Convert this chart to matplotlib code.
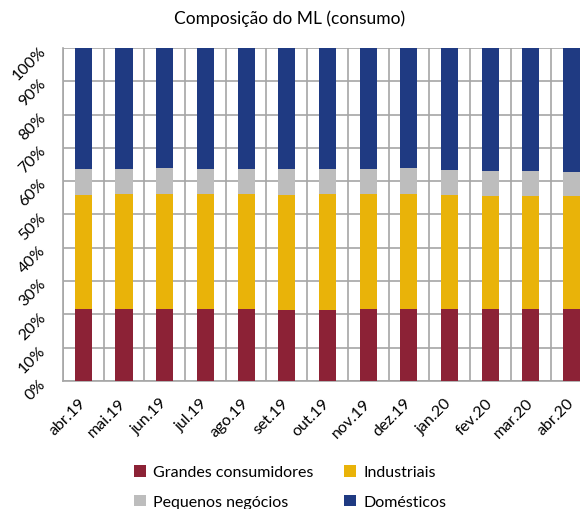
import matplotlib
matplotlib.use("Agg")
import matplotlib.pyplot as plt
import numpy as np
from matplotlib.ticker import FixedLocator, PercentFormatter

plt.rcParams['font.family'] = ['Lato', 'DejaVu Sans']

months = ["abr.19", "mai.19", "jun.19", "jul.19", "ago.19", "set.19", "out.19",
          "nov.19", "dez.19", "jan.20", "fev.20", "mar.20", "abr.20"]
grandes = [21.7, 21.7, 21.7, 21.7, 21.7, 21.3, 21.3, 21.7, 21.7, 21.7, 21.7, 21.7, 21.7]
industriais = [34.2, 34.5, 34.5, 34.5, 34.5, 34.6, 34.9, 34.5, 34.5, 34.2, 33.8, 33.8, 33.8]
pequenos = [7.8, 7.5, 7.8, 7.5, 7.5, 7.8, 7.5, 7.5, 7.8, 7.5, 7.6, 7.6, 7.3]
domesticos = [100 - g - i - p for g, i, p in zip(grandes, industriais, pequenos)]

series = [("Grandes consumidores", grandes, "#8C2236"),
          ("Industriais", industriais, "#E9B309"),
          ("Pequenos negócios", pequenos, "#BDBDBD"),
          ("Domésticos", domesticos, "#1F3A82")]

fig = plt.figure(figsize=(5.8, 5.1), dpi=100)
ax = fig.add_axes([0.1086, 0.251, 0.912, 0.653])

x = np.arange(len(months))
bottom = np.zeros(len(months))
handles = {}
for name, vals, col in series:
    b = ax.bar(x, vals, bottom=bottom, width=0.42, color=col, zorder=3, label=name)
    handles[name] = b
    bottom += np.array(vals)

ax.set_xlim(-0.5, len(months) - 0.5)
ax.set_ylim(0, 100)
ax.yaxis.set_major_locator(FixedLocator(np.arange(0, 101, 10)))
ax.yaxis.set_major_formatter(PercentFormatter(decimals=0))
ax.set_xticks(x)
ax.set_xticklabels(months, rotation=45, ha='right', va='center', rotation_mode='anchor', fontsize=11.5)
for lbl in ax.get_yticklabels():
    lbl.set_rotation(45)
    lbl.set_fontsize(11.5)
    lbl.set_rotation_mode('anchor')
    lbl.set_ha('right')
    lbl.set_va('center')
ax.set_xticks(np.arange(-0.5, len(months), 1), minor=True)
ax.tick_params(axis='both', which='both', length=0)
ax.tick_params(axis='y', pad=14)
ax.tick_params(axis='x', pad=14)
ax.grid(True, axis='y', which='major', color='#A6A6A6', linewidth=1.2, zorder=0)
ax.grid(True, axis='x', which='minor', color='#A6A6A6', linewidth=1.2, zorder=0)
for s in ['top', 'right']:
    ax.spines[s].set_visible(False)
for s in ['left', 'bottom']:
    ax.spines[s].set_color('#A6A6A6')
    ax.spines[s].set_linewidth(1.2)

fig.text(0.5, 0.963, "Composição do ML (consumo)", ha='center', va='center', fontsize=12.5)

order = ["Grandes consumidores", "Pequenos negócios", "Industriais", "Domésticos"]
fig.legend([handles[n] for n in order], order, ncol=2, loc='center',
           bbox_to_anchor=(0.5, 0.043), frameon=False, fontsize=11.5,
           handlelength=0.75, handleheight=0.75, columnspacing=1.9, labelspacing=0.95,
           handletextpad=0.45)

fig.savefig("out.png", dpi=100)
